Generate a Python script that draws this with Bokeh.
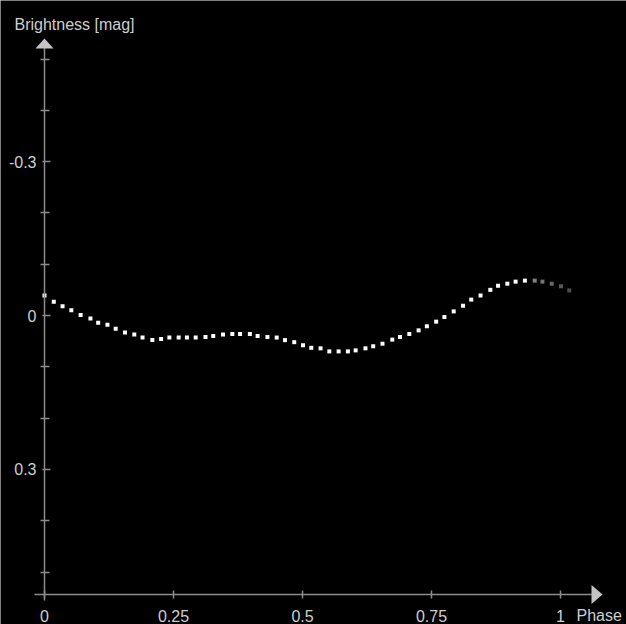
from bokeh.plotting import figure
from bokeh.models import Range1d, FixedTicker, Label, PolyAnnotation, ColumnDataSource
from bokeh.embed import file_html
from bokeh.resources import INLINE
import numpy as np

# ---- data ----
phase = [0.0, 0.018, 0.035, 0.052, 0.070, 0.089, 0.104, 0.122, 0.138, 0.156,
         0.174, 0.190, 0.209, 0.226, 0.242, 0.260, 0.276, 0.293, 0.312, 0.327,
         0.346, 0.364, 0.379, 0.398, 0.413, 0.432, 0.450, 0.466, 0.484, 0.501,
         0.517, 0.535, 0.552, 0.570, 0.588, 0.603, 0.622, 0.637, 0.655, 0.674,
         0.689, 0.707, 0.725, 0.741, 0.759, 0.775, 0.793, 0.811, 0.827, 0.845,
         0.864, 0.879, 0.897, 0.913, 0.931]
mag = [-0.039, -0.027, -0.018, -0.010, -0.001, 0.006, 0.014, 0.018, 0.026, 0.033,
       0.037, 0.043, 0.048, 0.046, 0.043, 0.043, 0.043, 0.043, 0.042, 0.040,
       0.037, 0.036, 0.036, 0.036, 0.040, 0.042, 0.043, 0.048, 0.052, 0.058,
       0.063, 0.064, 0.070, 0.070, 0.070, 0.068, 0.064, 0.060, 0.055, 0.047,
       0.042, 0.036, 0.029, 0.021, 0.012, 0.003, -0.008, -0.019, -0.031, -0.039,
       -0.050, -0.058, -0.062, -0.066, -0.068]
# faded continuation past the end of the cycle
phase_ext = [0.950, 0.965, 0.983, 1.001, 1.017]
mag_ext = [-0.068, -0.066, -0.062, -0.057, -0.049]

x_ticks = [0, 0.25, 0.5, 0.75, 1]
x_tick_labels = ["0", "0.25", "0.5", "0.75", "1"]
y_ticks = [-0.3, 0, 0.3]
y_tick_labels = ["-0.3", "0", "0.3"]
y_minor = [-0.5, -0.4, -0.2, -0.1, 0.1, 0.2, 0.4, 0.5]

x_title = "Phase"
y_title = "Brightness [mag]"

# ---- layout helpers (pixel -> data) ----
W, H = 626, 624
def dx(px):
    return (px - 44) / 516.0
def dy(py):
    return (py - 315) / 513.0

FONT = "Liberation Sans"
TXT = "#cfcfcf"
AX = "#8c8c8c"
HEAD = "#c4c4c4"

p = figure(width=W, height=H, output_backend="svg", toolbar_location=None,
           title=None, x_range=Range1d(dx(0), dx(W)), y_range=Range1d(dy(H), dy(0)),
           min_border=0, min_border_left=0, min_border_right=0,
           min_border_top=0, min_border_bottom=0)
p.background_fill_color = "black"
p.border_fill_color = "black"
p.outline_line_color = None
p.grid.visible = False

X_AXIS_AT = dy(594)

xa = p.xaxis[0]
xa.fixed_location = X_AXIS_AT
xa.bounds = (dx(34), dx(600))
xa.ticker = FixedTicker(ticks=x_ticks)
xa.major_label_overrides = {t: s for t, s in zip(x_ticks, x_tick_labels)}
xa.major_tick_in = 4
xa.major_tick_out = 4
xa.major_label_standoff = 11

ya = p.yaxis[0]
ya.fixed_location = 0
ya.bounds = (dy(44), dy(600))
ya.ticker = FixedTicker(ticks=y_ticks, minor_ticks=y_minor)
ya.major_label_overrides = {t: s for t, s in zip(y_ticks, y_tick_labels)}
ya.major_tick_in = 6
ya.major_tick_out = 2
ya.minor_tick_in = 5
ya.minor_tick_out = 4
ya.major_label_standoff = 4
ya.major_label_orientation = "horizontal"

for a in (xa, ya):
    a.axis_line_color = AX
    a.axis_line_width = 1.5
    a.major_tick_line_color = AX
    a.major_tick_line_width = 1.5
    a.minor_tick_line_width = 1.5
    a.major_label_text_color = TXT
    a.major_label_text_font = FONT
    a.major_label_text_font_size = "16px"
xa.minor_tick_line_color = None
ya.minor_tick_line_color = AX

# arrow heads at the ends of the axes
p.add_layout(PolyAnnotation(xs=[dx(35), dx(53), dx(44)],
                            ys=[dy(48), dy(48), dy(38)],
                            fill_color=HEAD, fill_alpha=1, line_color=None))
p.add_layout(PolyAnnotation(xs=[dx(591), dx(591), dx(602)],
                            ys=[dy(584.5), dy(603.5), dy(594)],
                            fill_color=HEAD, fill_alpha=1, line_color=None))

# data points
p.scatter(phase, mag, marker="square", size=4, fill_color="white",
          line_color=None)
ext_alpha = list(np.linspace(0.5, 0.3, len(phase_ext)))
src_ext = ColumnDataSource(dict(x=phase_ext, y=mag_ext, a=ext_alpha))
p.scatter("x", "y", source=src_ext, marker="square", size=4, fill_color="white",
          fill_alpha="a", line_color=None)

# axis titles
p.add_layout(Label(x=dx(14), y=dy(24), text=y_title,
                   text_color=TXT, text_font=FONT, text_font_size="16px",
                   text_baseline="alphabetic", text_align="left"))
p.add_layout(Label(x=dx(576), y=dy(615), text=x_title,
                   text_color=TXT, text_font=FONT, text_font_size="16px",
                   text_baseline="alphabetic", text_align="left"))

html = file_html(p, INLINE)
html = html.replace("<body>", '<body style="margin:0;background:#000000;">', 1)
open("out.html", "w").write(html)
